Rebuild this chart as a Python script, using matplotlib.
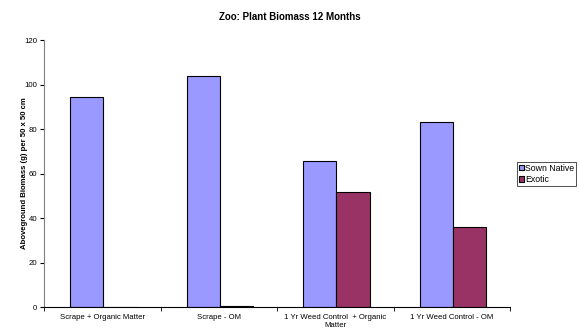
import matplotlib.pyplot as plt
import numpy as np

categories = ["Scrape + Organic Matter", "Scrape - OM",
              "1 Yr Weed Control  + Organic\nMatter", "1 Yr Weed Control - OM"]
sown_native = [94.4, 103.8, 65.6, 83.2]
exotic = [0.0, 0.3, 51.9, 36.0]

plt.rcParams['font.family'] = ['Liberation Sans', 'DejaVu Sans']

fig = plt.figure(figsize=(5.79, 3.32), dpi=100)
ax = fig.add_axes([0.076, 0.0753, 0.805, 0.8042])

x = np.arange(len(categories))
w = 0.286
ax.bar(x - w / 2 + 0.01, sown_native, w, color='#9999FF', edgecolor='black', linewidth=0.8, label='Sown Native')
ax.bar(x + w / 2 + 0.01, exotic, w, color='#993366', edgecolor='black', linewidth=0.8, label='Exotic')

ax.set_xlim(-0.5, len(categories) - 0.5)
ax.set_ylim(0, 120)
ax.set_yticks(range(0, 121, 20))
ax.set_xticks(x)
ax.set_xticklabels(categories, fontsize=5.6)
ax.set_xticks(np.arange(-0.5, len(categories)), minor=True)
ax.tick_params(axis='x', which='major', length=0, pad=5)
ax.tick_params(axis='x', which='minor', length=3, direction='out')
ax.tick_params(axis='y', labelsize=5.6, length=3, direction='out', pad=2)

for s in ['top', 'right']:
    ax.spines[s].set_visible(False)
ax.spines['left'].set_color('#808080')
ax.spines['bottom'].set_color('black')

ax.set_ylabel("Aboveground Biomass (g) per 50 x 50 cm", fontsize=5.6, fontweight='bold')
ax.yaxis.set_label_coords(-0.034, 0.5)
fig.suptitle("Zoo: Plant Biomass 12 Months", fontsize=7, fontweight='bold', y=0.965)

leg = fig.legend(loc='upper left', bbox_to_anchor=(517 / 579, 1 - 162 / 332), fontsize=6.3,
                 frameon=True, fancybox=False, edgecolor='black', borderpad=0.2,
                 handlelength=0.55, handleheight=0.6, handletextpad=0.15, labelspacing=0.25,
                 borderaxespad=0)
leg.get_frame().set_linewidth(0.6)

fig.savefig("out.png", dpi=100)
